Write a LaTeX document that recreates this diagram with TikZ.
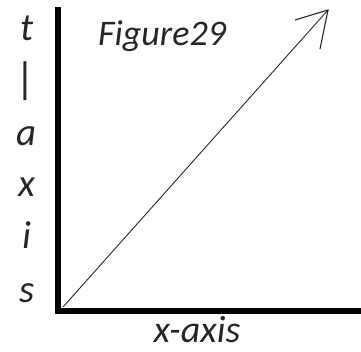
\documentclass[tikz,border=0pt]{standalone}
\usepackage{fontspec}
\setmainfont{Carlito}
\begin{document}
\begin{tikzpicture}[x=1pt,y=-1pt,
  lbl/.style={inner sep=0pt, anchor=base, text=black!85, font=\fontsize{39}{39}\selectfont\itshape},
  axisline/.style={line width=6pt, black},
  vec/.style={line width=0.9pt, black!85}]
\useasboundingbox (0,0) rectangle (361,351);
\coordinate (top) at (58,7);
\coordinate (origin) at (58,314);
\coordinate (corner) at (55,311);
\coordinate (right) at (361,311);
\draw[axisline] (top) -- (origin);
\draw[axisline] (corner) -- (right);
\coordinate (start) at (63,307);
\coordinate (tip) at (328,10);
\coordinate (b1) at (295,20);
\coordinate (b2) at (320,49);
\draw[vec] (start) -- (tip);
\draw[vec, line width=1.1pt] (b1) -- (tip) -- (b2);
\node[lbl] (t) at (27,40) {t};
\node[lbl, font=\fontsize{44}{44}\selectfont\itshape] (bar) at (27,93) {|};
\node[lbl] (a) at (27,145) {a};
\node[lbl] (x) at (27,196) {x};
\node[lbl] (i) at (27,248) {i};
\node[lbl] (s) at (27,302) {s};
\node[lbl, font=\fontsize{36}{36}\selectfont\itshape, anchor=base west] (fig) at (98,45) {Figure29};
\node[lbl, text depth=0pt, font=\fontsize{38}{38}\selectfont\itshape] (xaxis) at (197,342) {x-axis};
\end{tikzpicture}
\end{document}
